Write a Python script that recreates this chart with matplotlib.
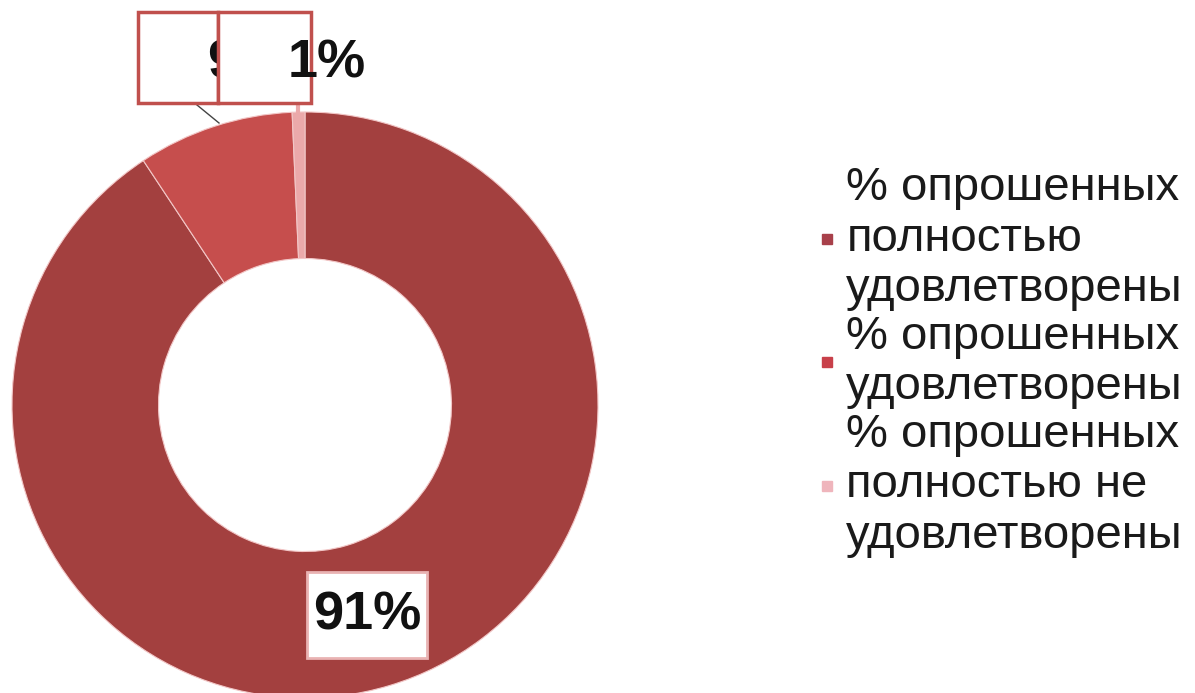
import matplotlib
matplotlib.use("Agg")
import matplotlib.pyplot as plt
from matplotlib.patches import Rectangle
from matplotlib.lines import Line2D

# ---- data ----
categories = [
    "% опрошенных\nполностью\nудовлетворены",
    "% опрошенных\nудовлетворены",
    "% опрошенных\nполностью не\nудовлетворены",
]
values = [90.7, 8.6, 0.7]
colors = ["#A3403F", "#C64E4D", "#EBA9AA"]
legend_colors = ["#A8404A", "#C8404A", "#EFB5BC"]

W, H = 1195, 693
fig = plt.figure(figsize=(W / 100, H / 100), dpi=100)
ax = fig.add_axes([0, 0, 1, 1])

def py(y):  # pixel-from-top to data y
    return H - y

cx, cy, R = 305, py(405), 293
wedges, _ = ax.pie(values, colors=colors, startangle=90, counterclock=False,
                   radius=R, center=(cx, cy),
                   wedgeprops=dict(width=R * 0.5, edgecolor="#F2C6C6", linewidth=0.8))
ax.set_xlim(0, W)
ax.set_ylim(0, H)
ax.set_aspect("auto")
ax.axis("off")

total = sum(values)
labels = [f"{round(v / total * 100)}%" for v in values]
font = dict(family="Liberation Sans", fontweight="bold", fontsize=39, color="#111111")

# 91% label box
ax.add_patch(Rectangle((307, py(658)), 120, 86, facecolor="white",
                       edgecolor="#E9B3B3", linewidth=2, zorder=3))
ax.text(367, py(615), labels[0], ha="center", va="center", zorder=4, **font)

# leader lines
ax.add_line(Line2D([197, 219], [py(105), py(123)], color="#444444", linewidth=1, zorder=2))
ax.add_line(Line2D([298, 298], [py(103), py(113)], color="#EBA9AA", linewidth=3, zorder=2))

# 9% label box (partially covered)
ax.add_patch(Rectangle((138, py(103)), 80, 91, facecolor="white",
                       edgecolor="#C0504D", linewidth=2.5, zorder=5))
ax.text(207, py(63), labels[1], ha="left", va="center", zorder=6, **font)
# 1% label box
ax.add_patch(Rectangle((218, py(103)), 93, 91, facecolor="white",
                       edgecolor="#C0504D", linewidth=2.5, zorder=7))
ax.text(288, py(63), labels[2], ha="left", va="center", zorder=8, **font)

# legend
handles = [Line2D([], [], marker="s", linestyle="", markersize=7,
                  markerfacecolor=c, markeredgecolor=c) for c in legend_colors]
leg = fig.legend(handles, categories, loc="center left",
                 bbox_to_anchor=(818 / W, 1 - 362 / H),
                 frameon=False, handlelength=0.4, handletextpad=0.2,
                 labelspacing=0.08, borderpad=0, borderaxespad=0,
                 prop=dict(family="Liberation Sans", size=34))
for t in leg.get_texts():
    t.set_color("#1a1a1a")
    t.set_linespacing(1.19)

fig.savefig("out.png", dpi=100, facecolor="white")
